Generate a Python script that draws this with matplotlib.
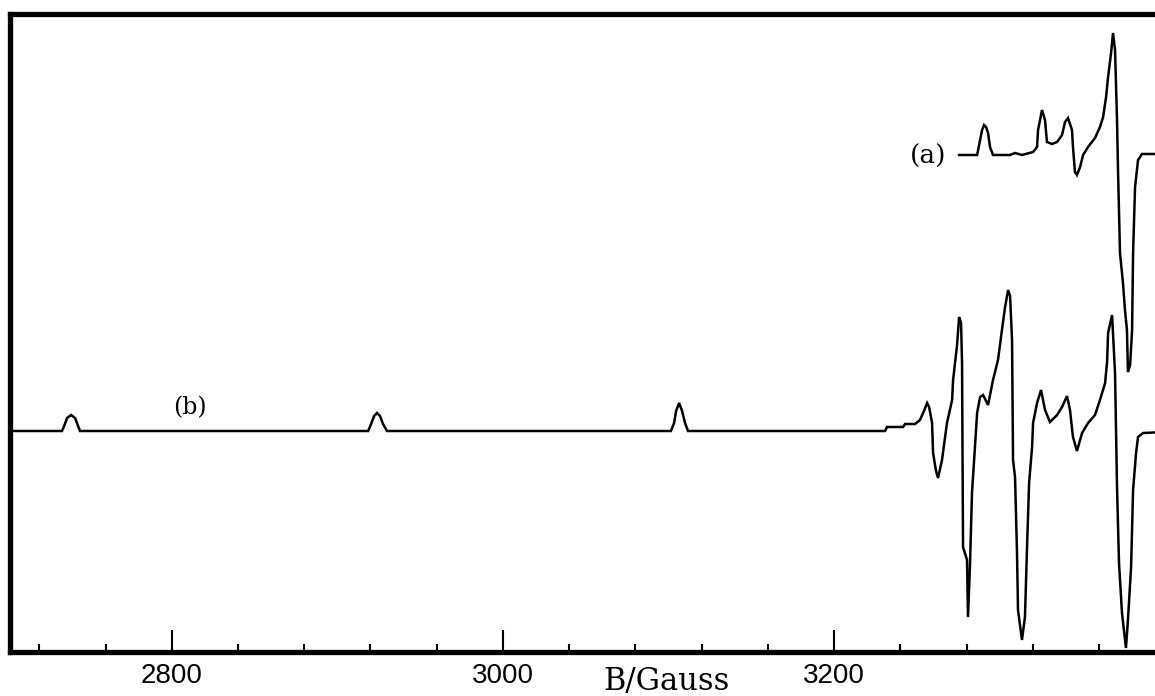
import numpy as np
import matplotlib
matplotlib.use("Agg")
import matplotlib.pyplot as plt
from matplotlib.ticker import FixedLocator, MultipleLocator

# ---- data (magnetic field in Gauss, intensity in arbitrary units) ----
b_field = [2700, 2733.7, 2735.0, 2736.8, 2739.2, 2741.6, 2743.4, 2744.6,
           2918.6, 2920.4, 2922.2, 2924.0, 2925.8, 2927.6, 2930.0,
           3101.5, 3103.4, 3104.6, 3106.4, 3108.2, 3110.0, 3111.8,
           3230.8, 3232.0, 3241.7, 3242.9, 3248.9, 3251.9, 3254.3, 3256.2, 3257.4, 3259.2,
           3259.8, 3261.6, 3262.8, 3265.2, 3268.2, 3271.3, 3271.9, 3274.3, 3275.5, 3276.7,
           3277.3, 3277.9, 3280.3, 3280.9, 3282.1, 3283.3, 3285.1, 3286.4, 3288.2, 3290.0,
           3293.0, 3296.0, 3299.0, 3301.4, 3303.3, 3305.1, 3306.3, 3307.5, 3308.1, 3309.3,
           3310.5, 3311.1, 3313.5, 3315.3, 3316.5, 3317.8, 3319.6, 3320.2, 3322.6, 3325.0,
           3327.4, 3330.4, 3334.7, 3337.7, 3340.7, 3342.5, 3344.3, 3346.7, 3349.8, 3353.4,
           3357.6, 3360.6, 3363.7, 3364.9, 3365.5, 3367.9, 3369.7, 3370.9, 3372.1, 3373.9,
           3376.3, 3377.5, 3379.4, 3380.6, 3382.4, 3383.6, 3386.6, 3400]
b_intensity = [0, 0, 5, 13, 16, 13, 5, 0,
               0, 7, 15, 18, 15, 7, 0,
               0, 8, 20, 28, 20, 8, 0,
               0, 4, 4, 7, 7, 11, 20, 28, 24, 8,
               -22, -40, -47, -29, 8, 31, 51, 86, 114, 108,
               68, -116, -129, -186, -134, -62, -16, 18, 34, 36,
               26, 51, 71, 101, 124, 141, 135, 91, -29, -46,
               -122, -179, -209, -186, -119, -52, -16, 8, 28, 41,
               21, 9, 16, 24, 35, 21, -6, -20, -2, 8,
               16, 31, 48, 69, 98, 116, 58, -56, -132, -182,
               -217, -189, -136, -59, -22, -6, -2, -1]

a_field = [3275.5, 3286.4, 3287.6, 3289.4, 3290.6, 3291.8, 3293.0, 3294.2, 3296.0, 3306.3,
           3309.3, 3313.5, 3320.2, 3322.6, 3323.2, 3325.6, 3327.4, 3328.6, 3331.6, 3334.7,
           3337.7, 3339.5, 3341.3, 3343.7, 3344.3, 3345.5, 3346.7, 3348.6, 3350.4, 3353.4,
           3357.6, 3360.6, 3362.5, 3364.3, 3365.5, 3367.3, 3368.5, 3369.7, 3370.9, 3371.5,
           3372.7, 3374.5, 3375.7, 3376.9, 3377.5, 3378.8, 3380.0, 3380.6, 3381.8, 3383.6,
           3386.0, 3400]
a_intensity = [0, 0, 10, 25, 30, 28, 22, 8, 0, 0,
               2, 0, 3, 8, 25, 45, 35, 13, 11, 13,
               20, 33, 37, 25, 8, -17, -20, -12, 0, 8,
               17, 28, 38, 58, 78, 102, 122, 105, 35, -15,
               -98, -128, -155, -175, -217, -210, -175, -98, -32, -5,
               1, 1]
a_offset = 276

major_ticks = [2800, 3000, 3200]
tick_labels = ["2800", "3000", "3200"]
x_label = "B/Gauss"

# ---- figure ----
W, H = 1155, 696
fig = plt.figure(figsize=(W / 100, H / 100), dpi=100)
left_px, right_px, top_px, bottom_px = 10, 1165.2, 14, 652
ax = fig.add_axes([left_px / W, (H - bottom_px) / H,
                   (right_px - left_px) / W, (bottom_px - top_px) / H])

ax.plot(b_field, b_intensity, color="black", lw=1.8, solid_joinstyle="miter")
ax.plot(a_field, np.array(a_intensity) + a_offset, color="black", lw=1.8,
        solid_joinstyle="miter")

ax.set_xlim(2702.3, 3400)
ax.set_ylim(-221, 417)

for s in ax.spines.values():
    s.set_linewidth(3.8)
    s.set_color("black")

ax.yaxis.set_visible(False)
ax.xaxis.set_major_locator(FixedLocator(major_ticks))
ax.set_xticklabels(tick_labels)
ax.xaxis.set_minor_locator(MultipleLocator(40))
ax.tick_params(axis="x", which="major", direction="in", length=16, width=1.5,
               pad=8, labelsize=20, colors="black")
ax.tick_params(axis="x", which="minor", direction="in", length=5.5, width=1.5)
for lab in ax.get_xticklabels():
    lab.set_fontfamily("Liberation Sans")

ax.set_xlabel(x_label, fontfamily="DejaVu Serif", fontsize=22)
ax.xaxis.label.set_va("baseline")
ax.xaxis.set_label_coords((3099 - 2702.3) / (3400 - 2702.3), -(690 - 652) / 638)

ax.text(3256.8, 275, "(a)", ha="center", va="center", fontfamily="DejaVu Serif", fontsize=19)
ax.text(2811.1, 23, "(b)", ha="center", va="center", fontfamily="DejaVu Serif", fontsize=17)

fig.savefig("out.png", dpi=100)
